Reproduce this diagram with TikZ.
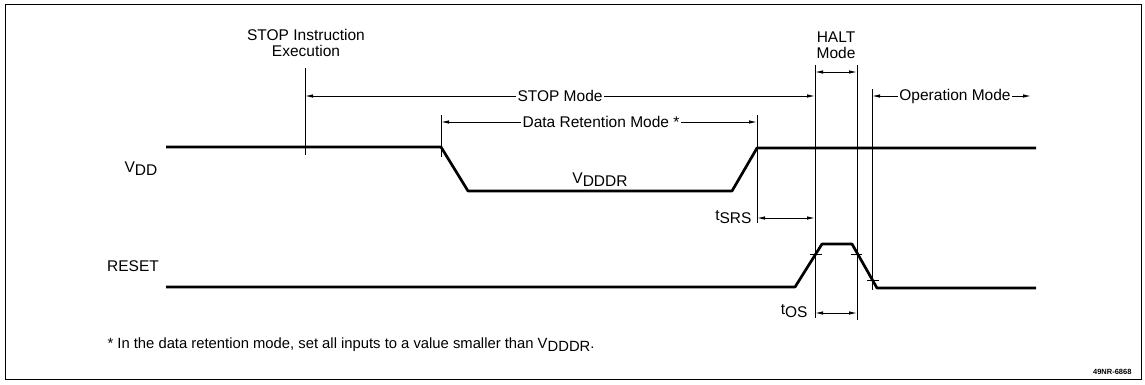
\documentclass[tikz,border=0pt]{standalone}
\usepackage{fontspec}
\setmainfont{Liberation Sans}
\usetikzlibrary{arrows.meta}

\newcommand{\lowsub}[2]{#1\raisebox{-0.35ex}{#2}}

\begin{document}
\begin{tikzpicture}[x=1pt, y=-1pt, font=\fontsize{15.5}{16}\selectfont,
    wave/.style = {line width=2.7pt, line join=round},
    thin/.style = {line width=0.9pt},
    arr/.style = {thin, -{Latex[length=8pt,width=3.5pt]}},
    dim/.style = {thin, {Latex[length=8pt,width=3.5pt]}-{Latex[length=8pt,width=3.5pt]}},
    lbl/.style = {fill=white, inner sep=1.5pt}]
    \useasboundingbox (0,0) rectangle (1145,384);
    \draw[thin] (5,4) rectangle (1141,379);

    % mode boundaries
    \coordinate (s1) at (305,68);  \coordinate (s2) at (305,155);
    \coordinate (d1) at (441,115); \coordinate (d2) at (441,157);
    \coordinate (e1) at (757,115); \coordinate (e2) at (757,223);
    \coordinate (h1) at (815,65);  \coordinate (h2) at (815,318);
    \coordinate (k1) at (857,65);  \coordinate (k2) at (857,320);
    \coordinate (o1) at (872,89);  \coordinate (o2) at (872,290);
    \draw[thin] (s1) -- (s2);
    \draw[thin] (d1) -- (d2);
    \draw[thin] (e1) -- (e2);
    \draw[thin] (h1) -- (h2);
    \draw[thin] (k1) -- (k2);
    \draw[thin] (o1) -- (o2);

    % texts
    \node[align=center] (exec)  at (306,43)  {STOP Instruction\\Execution};
    \node[align=center] (halt)  at (836,45)  {HALT\\Mode};
    \node[lbl]          (stopm) at (560,96)  {STOP Mode};
    \node[lbl]          (drm)   at (601,122) {Data Retention Mode *};
    \node[lbl]          (opm)   at (955,96)  {Operation Mode};
    \node               (vdd)   at (141,169) {\lowsub{V}{DD}};
    \node               (vddr)  at (600,180) {\lowsub{V}{DDDR}};
    \node               (rst)   at (133,266) {RESET};
    \node[anchor=east]  (tsrs)  at (755,217) {\lowsub{t}{SRS}};
    \node[anchor=east]  (tos)   at (811,311) {\lowsub{t}{OS}};
    \node[anchor=west, font=\fontsize{14.8}{16}\selectfont] (note) at (104,345) {* In the data retention mode, set all inputs to a value smaller than \lowsub{V}{DDDR}.};
    \node[anchor=east, font=\fontsize{7.5}{8}\selectfont\bfseries] (fig) at (1135,372) {49NR-6868};

    % mode arrows
    \draw[arr] (stopm.west) -- (305,96);
    \draw[arr] (stopm.east) -- (815,96);
    \draw[arr] (drm.west) -- (441,122);
    \draw[arr] (drm.east) -- (757,122);
    \draw[arr] (opm.west) -- (872,96);
    \draw[arr] (opm.east) -- (1031,96);
    \draw[dim] (815,72) -- (857,72);
    \draw[dim] (757,218) -- (815,218);
    \draw[dim] (815,313) -- (857,313);

    % waveforms
    \draw[wave] (166,147) -- (441,147) -- (468,191) -- (732,191) -- (757,148) -- (1036,148);
    \draw[wave] (166,287) -- (795,287) -- (822,244) -- (852,244) -- (877,288) -- (1036,288);
    \draw[thin] (810,254) -- (822,254);
    \draw[thin] (851,254) -- (862,254);
    \draw[thin] (867,280) -- (879,280);
\end{tikzpicture}
\end{document}
